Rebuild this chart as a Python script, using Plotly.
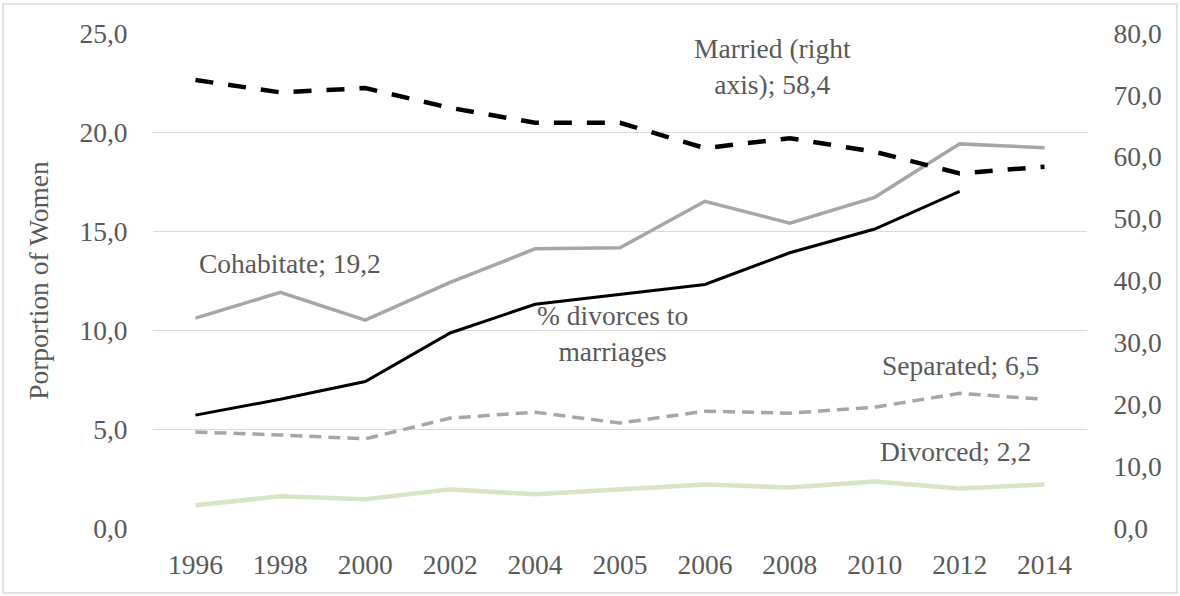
import plotly.graph_objects as go

years = ["1996", "1998", "2000", "2002", "2004", "2005", "2006", "2008", "2010", "2012", "2014"]
married = [72.4, 70.4, 71.1, 67.9, 65.5, 65.5, 61.4, 63.0, 60.8, 57.3, 58.4]
cohabitate = [10.6, 11.9, 10.5, 12.4, 14.1, 14.15, 16.5, 15.4, 16.7, 19.4, 19.2]
div_to_marr = [5.7, 6.5, 7.4, 9.85, 11.3, 11.8, 12.3, 13.9, 15.1, 17.0, None]
separated = [4.85, 4.7, 4.5, 5.55, 5.85, 5.3, 5.9, 5.8, 6.1, 6.8, 6.5]
divorced = [1.15, 1.6, 1.45, 1.95, 1.7, 1.95, 2.2, 2.05, 2.35, 2.0, 2.2]

FONT = "Liberation Serif"
TXT = "#595959"
FS = 27.5

fig = go.Figure()
fig.add_trace(go.Scatter(x=years, y=divorced, mode="lines", name="Divorced",
                         line=dict(color="#d7e4c5", width=4.5)))
fig.add_trace(go.Scatter(x=years, y=separated, mode="lines", name="Separated",
                         line=dict(color="#a6a6a6", width=3.5, dash="12px,7px")))
fig.add_trace(go.Scatter(x=years, y=cohabitate, mode="lines", name="Cohabitate",
                         line=dict(color="#a6a6a6", width=3.5)))
fig.add_trace(go.Scatter(x=years, y=div_to_marr, mode="lines", name="% divorces to marriages",
                         line=dict(color="#000000", width=3)))
fig.add_trace(go.Scatter(x=years, y=married, mode="lines", name="Married", yaxis="y2",
                         line=dict(color="#000000", width=4.5, dash="18px,15px")))

W, H = 1180, 596
L, R, T, B = 153, 1087, 33, 528


def px(x):
    return (x - L) / (R - L)


def py(y):
    return (B - y) / (B - T)


annos = [
    ("Married (right<br>axis); 58,4", 772, 66),
    ("Cohabitate; 19,2", 290, 263),
    ("% divorces to<br>marriages", 612, 333),
    ("Separated; 6,5", 960, 365),
    ("Divorced; 2,2", 955, 451),
]
for text, x, y in annos:
    fig.add_annotation(text=text, x=px(x), y=py(y), xref="paper", yref="paper",
                       showarrow=False, xanchor="center", yanchor="middle",
                       font=dict(family=FONT, size=FS, color=TXT))

fig.add_shape(type="rect", xref="paper", yref="paper",
              x0=px(3), x1=px(1177), y0=py(593), y1=py(4),
              line=dict(color="#d9d9d9", width=1.5), fillcolor="rgba(0,0,0,0)", layer="below")

fig.update_layout(
    width=W, height=H,
    margin=dict(l=L, r=W - R, t=T, b=H - B, pad=0),
    paper_bgcolor="white", plot_bgcolor="white",
    showlegend=False,
    separators=", ",
    font=dict(family=FONT, size=FS, color=TXT),
    xaxis=dict(type="category", range=[-0.5, len(years) - 0.5],
               showgrid=False, showline=False, zeroline=False,
               ticks="outside", ticklen=12, tickcolor="rgba(0,0,0,0)",
               tickfont=dict(family=FONT, size=FS, color=TXT)),
    yaxis=dict(range=[0, 25], dtick=5, tickformat=".1f", showgrid=True,
               gridcolor="#d9d9d9", gridwidth=1.3, zeroline=False, showline=False,
               ticks="outside", ticklen=19, tickcolor="rgba(0,0,0,0)",
               tickfont=dict(family=FONT, size=FS, color=TXT),
               title=dict(text="Porportion of Women", standoff=22,
                          font=dict(family=FONT, size=FS, color=TXT)),
               automargin=False),
    yaxis2=dict(range=[0, 80], dtick=10, tickformat=".1f", overlaying="y", side="right",
                showgrid=False, zeroline=False, showline=False,
                ticks="outside", ticklen=20, tickcolor="rgba(0,0,0,0)",
                tickfont=dict(family=FONT, size=FS, color=TXT), automargin=False),
)

fig.write_html("out.html")
